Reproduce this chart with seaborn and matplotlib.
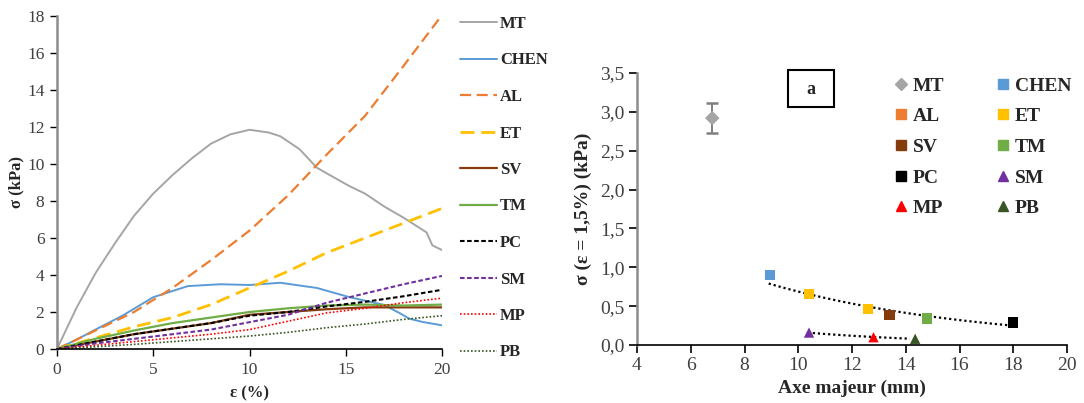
import numpy as np
import pandas as pd
import matplotlib
matplotlib.use("Agg")
import matplotlib.pyplot as plt
from matplotlib.lines import Line2D
from matplotlib.patches import Rectangle
import seaborn as sns

# ---------------- data: left panel (stress-strain curves) ----------------
eps_common = [0, 2, 4, 6, 8, 10, 12, 14, 16, 18, 20]

mt_x = [0, 1, 2, 3, 4, 5, 6, 7, 8, 9, 10, 11, 11.6, 12.6, 13.5, 14, 15.2, 16, 17, 18, 18.3, 19.2, 19.5, 20]
mt_y = [0, 2.2, 4.1, 5.7, 7.2, 8.4, 9.4, 10.3, 11.1, 11.6, 11.85, 11.7, 11.5, 10.8, 9.8, 9.5, 8.8, 8.4, 7.7, 7.1, 6.9, 6.3, 5.6, 5.35]

chen_x = [0, 1, 2, 3.4, 5, 6.8, 8.5, 10, 11.6, 13.5, 15.2, 17, 17.8, 18.3, 19, 20]
chen_y = [0, 0.5, 1.05, 1.8, 2.8, 3.4, 3.5, 3.46, 3.58, 3.3, 2.8, 2.38, 1.94, 1.64, 1.46, 1.28]

al_y = [0, 1.0, 2.0, 3.3, 4.8, 6.4, 8.3, 10.5, 12.6, 15.3, 18.05]
et_y = [0, 0.6, 1.2, 1.7, 2.4, 3.3, 4.2, 5.2, 6.0, 6.8, 7.6]
sv_y = [0, 0.4, 0.8, 1.1, 1.4, 1.85, 2.0, 2.15, 2.25, 2.25, 2.25]
tm_y = [0, 0.55, 1.0, 1.4, 1.7, 2.0, 2.2, 2.35, 2.4, 2.35, 2.4]
pc_y = [0, 0.4, 0.8, 1.1, 1.4, 1.8, 2.0, 2.3, 2.55, 2.85, 3.2]
sm_y = [0, 0.3, 0.55, 0.8, 1.05, 1.45, 1.85, 2.5, 3.0, 3.5, 3.95]
mp_y = [0, 0.2, 0.4, 0.6, 0.8, 1.05, 1.5, 1.95, 2.2, 2.5, 2.75]
pb_y = [0, 0.12, 0.25, 0.4, 0.55, 0.7, 0.9, 1.15, 1.35, 1.6, 1.8]

# ---------------- data: right panel (scatter) ----------------
sc_names = ["MT", "CHEN", "ET", "ET", "SV", "TM", "PC", "SM", "MP", "PB"]
sc_x = [6.8, 8.95, 10.4, 12.6, 13.4, 14.8, 18.0, 10.4, 12.8, 14.35]
sc_y = [2.92, 0.90, 0.66, 0.46, 0.39, 0.34, 0.29, 0.16, 0.10, 0.08]
mt_err = 0.19
trend_upper = ["CHEN", "ET", "SV", "TM", "PC"]
trend_lower = ["SM", "MP", "PB"]

legend_names = ["MT", "CHEN", "AL", "ET", "SV", "TM", "PC", "SM", "MP", "PB"]
right_yticks = [0, 0.5, 1.0, 1.5, 2.0, 2.5, 3.0, 3.5]
right_yticklabels = ["0,0", "0,5", "1,0", "1,5", "2,0", "2,5", "3,0", "3,5"]

# ---------------- styles ----------------
colors = {"MT": "#A5A5A5", "CHEN": "#5B9BD5", "AL": "#ED7D31", "ET": "#FFC000",
          "SV": "#843C0C", "TM": "#70AD47", "PC": "#000000", "SM": "#7030A0",
          "MP": "#FF0000", "PB": "#375623"}
line_styles = {"MT": ("-", 1.4), "CHEN": ("-", 1.4), "AL": ((0, (5, 2.5)), 1.6),
               "ET": ((0, (5, 2.5)), 2.0), "SV": ("-", 1.6), "TM": ("-", 1.6),
               "PC": ((0, (2.2, 1.2)), 1.5), "SM": ((0, (2.2, 1.2)), 1.5),
               "MP": ((0, (1, 1.2)), 1.2), "PB": ((0, (1, 1.2)), 1.2)}
markers = {"MT": "D", "CHEN": "s", "AL": "s", "ET": "s", "SV": "s", "TM": "s",
           "PC": "s", "SM": "^", "MP": "^", "PB": "^"}

sns.set_style("ticks")
plt.rcParams["font.family"] = ["Liberation Serif", "DejaVu Serif"]

W, H = 1084, 403
fig = plt.figure(figsize=(W / 100, H / 100), dpi=100)

def rect(l, r, t, b):
    return [l / W, 1 - b / H, (r - l) / W, (b - t) / H]

# ================= left panel =================
ax1 = fig.add_axes(rect(57, 442, 16, 349))
series = [("MT", mt_x, mt_y), ("CHEN", chen_x, chen_y), ("AL", eps_common, al_y),
          ("ET", eps_common, et_y), ("SV", eps_common, sv_y), ("TM", eps_common, tm_y),
          ("PC", eps_common, pc_y), ("SM", eps_common, sm_y), ("MP", eps_common, mp_y),
          ("PB", eps_common, pb_y)]
handles = []
for name, xs, ys in series:
    ls, lw = line_styles[name]
    sns.lineplot(x=xs, y=ys, ax=ax1, color=colors[name], linestyle=ls, linewidth=lw,
                 estimator=None, sort=False)
    handles.append(Line2D([], [], color=colors[name], linestyle=ls, linewidth=lw, label=name))

ax1.set_xlim(0, 20)
ax1.set_ylim(0, 18)
ax1.set_xticks([0, 5, 10, 15, 20])
ax1.set_yticks(range(0, 19, 2))
for s in ["top", "right"]:
    ax1.spines[s].set_visible(False)
ax1.spines["left"].set_color("#8c8c8c")
ax1.spines["left"].set_linewidth(1.8)
ax1.spines["bottom"].set_color("#000000")
ax1.spines["bottom"].set_linewidth(1.2)
ax1.tick_params(axis="both", labelsize=12.5, length=5, width=1.0, pad=4, colors="#000000")
ax1.tick_params(axis="both", labelcolor="#404040")
ax1.set_ylabel("σ (kPa)", fontsize=12, fontweight="bold", labelpad=2)
ax1.set_xlabel("ε (%)", fontsize=12, fontweight="bold", labelpad=6)

fig.legend(handles=handles, loc="upper left", bbox_to_anchor=(460 / W, 1 - 16 / H),
           frameon=False, prop={"weight": "bold", "size": 12},
           handlelength=2.2, handletextpad=0.2, labelspacing=1.23, borderaxespad=0,
           borderpad=0)

# ================= right panel =================
ax2 = fig.add_axes(rect(637, 1067, 73, 345))
df = pd.DataFrame({"x": sc_x, "y": sc_y, "name": sc_names})

# trend lines (exponential fits of the two groups)
for group in (trend_upper, trend_lower):
    sub = df[df["name"].isin(group)]
    b, a = np.polyfit(sub["x"], np.log(sub["y"]), 1)
    xs = np.linspace(sub["x"].min() - 0.05, sub["x"].max() - 0.2, 60)
    sns.lineplot(x=xs, y=np.exp(a + b * xs), ax=ax2, color="black",
                 linestyle=(0, (1, 1.3)), linewidth=1.6)

# error bar for MT
mt_row = df[df["name"] == "MT"]
eb = ax2.errorbar(mt_row["x"], mt_row["y"], yerr=mt_err, fmt="none", ecolor="#7f7f7f",
                  elinewidth=1.4, capsize=4, capthick=1.8, zorder=3)
for cap in eb[1]:
    cap.set_color("black")

sns.scatterplot(data=df, x="x", y="y", hue="name", style="name",
                palette={k: colors[k] for k in df["name"].unique()},
                markers={k: markers[k] for k in df["name"].unique()},
                s=55, edgecolor="none", legend=False, ax=ax2, zorder=4)

ax2.set_xlim(4, 20)
ax2.set_ylim(0, 3.5)
ax2.set_xticks(range(4, 21, 2))
ax2.set_yticks(right_yticks)
ax2.set_yticklabels(right_yticklabels)
for s in ["top", "right"]:
    ax2.spines[s].set_visible(False)
ax2.spines["left"].set_color("#8c8c8c")
ax2.spines["left"].set_linewidth(1.8)
ax2.spines["bottom"].set_color("#000000")
ax2.spines["bottom"].set_linewidth(1.2)
ax2.tick_params(axis="both", labelsize=14, length=6, width=1.2, pad=3, colors="#000000")
ax2.tick_params(axis="both", labelcolor="#404040")
ax2.set_xlabel("Axe majeur (mm)", fontsize=14, fontweight="bold", labelpad=4)
ax2.set_ylabel("σ (ε = 1,5%) (kPa)", fontsize=14, fontweight="bold", labelpad=6)

# box "a"
fig.patches.append(Rectangle((788 / W, 1 - 107 / H), 46 / W, 37 / H, transform=fig.transFigure,
                             fill=False, edgecolor="black", linewidth=1.5))
fig.text(811 / W, 1 - 89 / H, "a", ha="center", va="center", fontsize=13, fontweight="bold")

# scatter legend (2 columns, row-wise order)
leg_handles = {n: Line2D([], [], linestyle="none", marker=markers[n], color=colors[n],
                         markersize=7 if markers[n] != "D" else 6, label=n)
               for n in legend_names}
col1 = legend_names[0::2]
col2 = legend_names[1::2]
ordered = [leg_handles[n] for n in col1 + col2]
fig.legend(handles=ordered, ncol=2, loc="upper left", bbox_to_anchor=(895 / W, 1 - 77 / H),
           frameon=False, prop={"weight": "bold", "size": 14}, handlelength=0.6,
           handletextpad=0.3, labelspacing=0.67, columnspacing=2.75, borderaxespad=0,
           borderpad=0)

fig.savefig("out.png", dpi=100)
